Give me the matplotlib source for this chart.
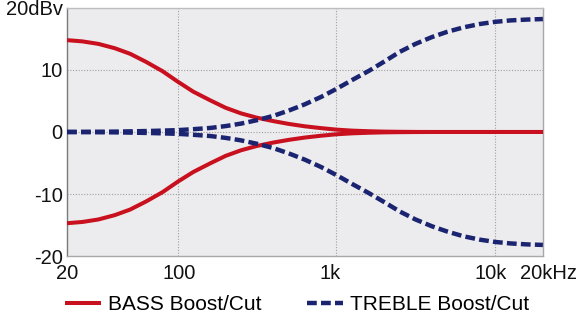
import matplotlib
matplotlib.use("Agg")
import matplotlib.pyplot as plt
import matplotlib.transforms as mtransforms

plt.rcParams['font.family'] = ['Liberation Sans', 'DejaVu Sans']

freq = [20, 25, 31.5, 40, 50, 63, 80, 100, 125, 160, 200, 250, 315, 400, 500,
        630, 800, 1000, 1250, 1600, 2000, 2500, 3150, 4000, 5000, 6300, 8000,
        10000, 12500, 16000, 20000]

bass_boost = [14.8, 14.6, 14.2, 13.5, 12.6, 11.3, 9.8, 8.1, 6.5, 5.1, 3.9, 3.0,
              2.3, 1.75, 1.3, 0.92, 0.62, 0.38, 0.22, 0.12, 0.06, 0.03, 0.01,
              0.0, 0.0, 0.0, 0.0, 0.0, 0.0, 0.0, 0.0]
bass_cut = [-14.7, -14.5, -14.1, -13.4, -12.5, -11.2, -9.7, -8.0, -6.45, -5.05,
            -3.85, -2.95, -2.25, -1.7, -1.27, -0.9, -0.6, -0.37, -0.22, -0.12,
            -0.06, -0.03, -0.01, 0.0, 0.0, 0.0, 0.0, 0.0, 0.0, 0.0, 0.0]

treble_boost = [0.0, 0.02, 0.04, 0.06, 0.1, 0.15, 0.22, 0.3, 0.45, 0.65, 0.95,
                1.35, 1.9, 2.6, 3.45, 4.45, 5.65, 6.95, 8.35, 9.85, 11.35, 12.9,
                14.2, 15.3, 16.15, 16.85, 17.4, 17.75, 17.98, 18.12, 18.2]
treble_cut = [0.0, -0.02, -0.04, -0.06, -0.1, -0.15, -0.22, -0.3, -0.45, -0.65,
              -0.95, -1.35, -1.9, -2.6, -3.45, -4.45, -5.65, -6.95, -8.35, -9.85,
              -11.3, -12.8, -14.1, -15.2, -16.05, -16.8, -17.35, -17.72, -17.96,
              -18.12, -18.2]

xticks = [20, 100, 1000, 10000, 20000]
xticklabels = ["20", "100", "1k", "10k", "20kHz"]
yticks = [-20, -10, 0, 10, 20]
yticklabels = ["-20", "-10", "0", "10", "20dBv"]

red = "#c8101e"
blue = "#1b2470"

fig = plt.figure(figsize=(5.8, 3.15), dpi=100)
ax = fig.add_axes([0.1155, 0.187, 0.8205, 0.788])
ax.set_facecolor("#ececee")

ax.plot(freq, bass_boost, color=red, lw=2.9, solid_capstyle='butt',
        solid_joinstyle='round', label="BASS Boost/Cut", zorder=3)
ax.plot(freq, bass_cut, color=red, lw=2.9, solid_capstyle='butt',
        solid_joinstyle='round', zorder=3)
ax.plot(freq, treble_boost, color=blue, lw=3.2, dashes=(2.2, 0.95),
        label="TREBLE Boost/Cut", zorder=4)
ax.plot(freq, treble_cut, color=blue, lw=3.2, dashes=(2.2, 0.95), zorder=4)

ax.set_xscale('log')
ax.set_xlim(20, 20000)
ax.set_ylim(-20, 20)
ax.set_xticks(xticks)
ax.set_xticklabels(xticklabels)
ax.minorticks_off()
ax.set_yticks(yticks)
ax.set_yticklabels(yticklabels)
ax.tick_params(axis='both', length=0, labelsize=14.5, colors='#111111')
ax.tick_params(axis='x', pad=6)
ax.tick_params(axis='y', pad=3)

# small horizontal nudges of x labels as in the reference
shifts_px = [0, 1, -6, -4, 6]
for lbl, dx in zip(ax.get_xticklabels(), shifts_px):
    lbl.set_transform(lbl.get_transform() +
                      mtransforms.ScaledTranslation(dx / 100, 0, fig.dpi_scale_trans))

for f in [100, 1000, 10000]:
    ax.axvline(f, color='#a0a0a0', lw=0.8, ls=(0, (1, 1.5)), zorder=1)
for v in [-10, 0, 10]:
    ax.axhline(v, color='#a0a0a0', lw=0.8, ls=(0, (1, 1.5)), zorder=1)

ax.spines['left'].set_color('#7a7a7a')
ax.spines['bottom'].set_color('#a8a8a8')
ax.spines['top'].set_color('#bdbdbd')
ax.spines['right'].set_color('#a8a8a8')
for s in ax.spines.values():
    s.set_linewidth(1.0)

fig.legend(loc='center', bbox_to_anchor=(0.512, 0.032), ncol=2, frameon=False,
           fontsize=15, handlelength=1.75, handletextpad=0.35, columnspacing=2.15)

fig.savefig("out.png", dpi=100)
